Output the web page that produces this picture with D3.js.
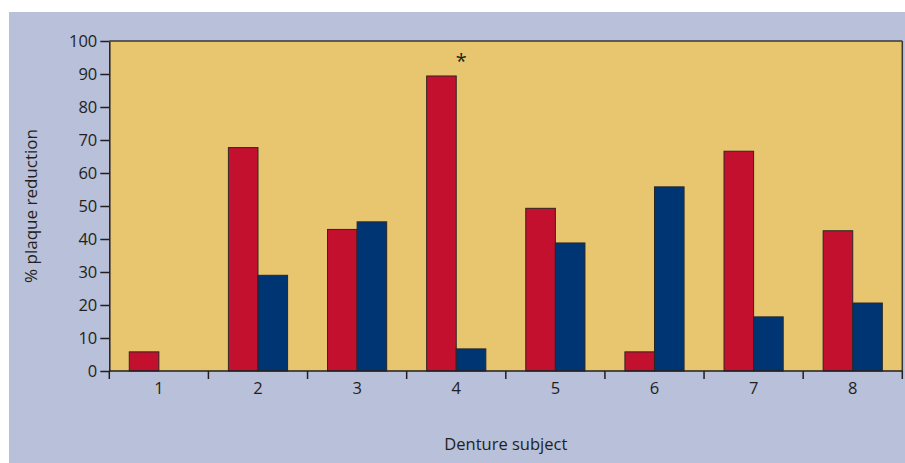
<!DOCTYPE html>
<html>
<head>
<meta charset="utf-8">
<script src="https://cdn.jsdelivr.net/npm/d3@7"></script>
<style>
  html, body { margin: 0; padding: 0; background: #ffffff; }
  svg { display: block; }
  text { font-family: "Open Sans", "Noto Sans", sans-serif; fill: #231f20; }
</style>
</head>
<body>
<svg id="chart" width="905" height="463"></svg>
<script>
// ---- data ----
const subjects = ["1", "2", "3", "4", "5", "6", "7", "8"];
const seriesNames = ["seriesA", "seriesB"];
const seriesA = [5.8, 67.7, 42.9, 89.4, 49.3, 5.8, 66.6, 42.5];   // red
const seriesB = [0, 29.0, 45.2, 6.7, 38.8, 55.8, 16.4, 20.6];      // blue
const yTicks = [0, 10, 20, 30, 40, 50, 60, 70, 80, 90, 100];
const significant = ["4"];
const xTitle = "Denture subject";
const yTitle = "% plaque reduction";

const colors = { seriesA: "#c3102f", seriesB: "#003574" };

const svg = d3.select("#chart");
const W = 905, H = 463;
const m = { left: 109.3, right: 905 - 902.3, top: 41, bottom: 463 - 371 };

// background panel
svg.append("rect").attr("x", 9).attr("y", 12).attr("width", W - 9).attr("height", H - 12)
  .attr("fill", "#b8c0da");

const x = d3.scaleBand().domain(subjects).range([m.left, W - m.right]).padding(0);
const xi = d3.scaleBand().domain(seriesNames).range([0, x.bandwidth()])
  .paddingInner(0).paddingOuter(0.675);
const y = d3.scaleLinear().domain([0, 100]).range([H - m.bottom, m.top]);

// plot area
svg.append("rect")
  .attr("x", m.left).attr("y", m.top)
  .attr("width", (W - m.right) - m.left).attr("height", (H - m.bottom) - m.top)
  .attr("fill", "#e8c670");

// bars
const rows = subjects.map((s, i) => ({ s, vals: [
  { k: "seriesA", v: seriesA[i] }, { k: "seriesB", v: seriesB[i] } ] }));

const g = svg.append("g");
rows.forEach(r => {
  r.vals.forEach(d => {
    if (d.v <= 0) return;
    g.append("rect")
      .attr("x", x(r.s) + xi(d.k))
      .attr("y", y(d.v))
      .attr("width", xi.bandwidth())
      .attr("height", y(0) - y(d.v))
      .attr("fill", colors[d.k])
      .attr("stroke", "#2b2626")
      .attr("stroke-width", 1);
  });
});

// frame top & right
svg.append("line").attr("x1", m.left).attr("x2", W - m.right)
  .attr("y1", m.top).attr("y2", m.top).attr("stroke", "#3a3636").attr("stroke-width", 1.5);
svg.append("line").attr("x1", W - m.right).attr("x2", W - m.right)
  .attr("y1", m.top).attr("y2", H - m.bottom).attr("stroke", "#3a3636").attr("stroke-width", 1.5);

// y axis
const yAxis = svg.append("g").attr("transform", `translate(${m.left},0)`)
  .call(d3.axisLeft(y).tickValues(yTicks).tickSize(9).tickPadding(3).tickSizeOuter(0));
yAxis.select(".domain").attr("stroke", "#231f20").attr("stroke-width", 1.5);
yAxis.selectAll(".tick line").attr("stroke", "#231f20").attr("stroke-width", 1.5);
yAxis.selectAll(".tick text").style("font-size", "16.5px")
  .style("font-family", "'Open Sans', sans-serif").attr("fill", "#231f20");

// x axis: ticks at band boundaries
const xBase = H - m.bottom;
const xAxisG = svg.append("g");
xAxisG.append("line").attr("x1", m.left).attr("x2", W - m.right)
  .attr("y1", xBase).attr("y2", xBase).attr("stroke", "#231f20").attr("stroke-width", 1.5);
const bounds = subjects.map(s => x(s)).concat([x(subjects[subjects.length - 1]) + x.bandwidth()]);
xAxisG.selectAll("line.tk").data(bounds).join("line").attr("class", "tk")
  .attr("x1", d => d).attr("x2", d => d)
  .attr("y1", xBase).attr("y2", xBase + 8)
  .attr("stroke", "#231f20").attr("stroke-width", 1.5);
xAxisG.selectAll("text").data(subjects).join("text")
  .attr("x", d => x(d) + x.bandwidth() / 2)
  .attr("y", xBase + 22.5)
  .attr("text-anchor", "middle")
  .style("font-size", "16.5px")
  .text(d => d);

// significance marker
svg.selectAll("text.sig").data(significant).join("text").attr("class", "sig")
  .attr("x", d => x(d) + x.bandwidth() / 2 + 5)
  .attr("y", 68)
  .attr("text-anchor", "middle")
  .style("font-size", "20px")
  .text("*");

// axis titles
svg.append("text")
  .attr("x", (m.left + W - m.right) / 2)
  .attr("y", 450)
  .attr("text-anchor", "middle")
  .style("font-size", "16.5px")
  .text(xTitle);

svg.append("text")
  .attr("transform", `translate(37,${(m.top + H - m.bottom) / 2}) rotate(-90)`)
  .attr("text-anchor", "middle")
  .style("font-size", "17px")
  .text(yTitle);
</script>
</body>
</html>
